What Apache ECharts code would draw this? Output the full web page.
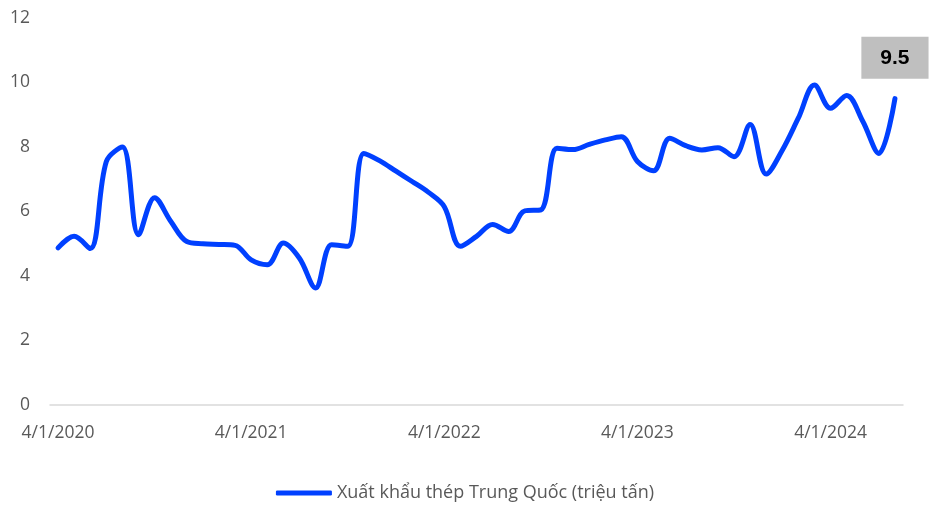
<!DOCTYPE html>
<html>
<head>
<meta charset="utf-8">
<script src="https://cdn.jsdelivr.net/npm/echarts@6/dist/echarts.min.js"></script>
<style>html,body{margin:0;padding:0;background:#fff}#c{width:930px;height:505px}</style>
</head>
<body>
<div id="c"></div>
<script>
// Monthly, 4/2020 .. 8/2024
var startYear = 2020, startMonth = 4;
var seriesName = 'Xuất khẩu thép Trung Quốc (triệu tấn)';
var values = [
  4.87, 5.23, 4.85, 7.55, 8.0, 5.28, 6.43, 5.7, 5.07, 5.0, 4.98, 4.95,
  4.5, 4.35, 5.02, 4.55, 3.63, 4.97, 4.92, 7.8, 7.57, 7.25, 6.93, 6.6,
  6.15, 4.92, 5.23, 5.6, 5.38, 6.02, 6.05, 7.96, 7.92, 8.08, 8.22, 8.32,
  7.55, 7.26, 8.27, 8.04, 7.91, 7.98, 7.7, 8.7, 7.16, 7.9, 8.9, 9.92,
  9.2, 9.6, 8.8, 7.8, 9.5
];
var categories = values.map(function (v, i) {
  var m = startMonth - 1 + i;
  return ((m % 12) + 1) + '/1/' + (startYear + Math.floor(m / 12));
});
var yTicks = [0, 2, 4, 6, 8, 10, 12];

var chart = echarts.init(document.getElementById('c'), null, {renderer: 'canvas'});
var lastIdx = values.length - 1;
chart.setOption({
  animation: false,
  grid: {left: 50, right: 27, top: 18, bottom: 100, containLabel: false},
  legend: {
    top: 479, left: 'center',
    itemWidth: 56, itemHeight: 5,
    icon: 'roundRect',
    textStyle: {fontFamily: 'Open Sans', fontSize: 18, color: '#595959'},
    data: [{name: seriesName}]
  },
  xAxis: {
    type: 'category',
    data: categories,
    boundaryGap: true,
    axisLine: {lineStyle: {color: '#D9D9D9', width: 1.5}},
    axisTick: {show: false},
    axisLabel: {interval: 11, color: '#595959', fontFamily: 'Open Sans', fontSize: 17.5, margin: 19}
  },
  yAxis: {
    type: 'value', min: yTicks[0], max: yTicks[yTicks.length - 1], interval: 2,
    axisLine: {show: false}, axisTick: {show: false}, splitLine: {show: false},
    axisLabel: {color: '#595959', fontFamily: 'Open Sans', fontSize: 17.5, margin: 20}
  },
  series: [{
    name: seriesName,
    type: 'line',
    data: values.map(function (v, i) {
      if (i === lastIdx) {
        return {value: v, label: {
          show: true, position: 'top', distance: 20,
          backgroundColor: '#BFBFBF', padding: [11, 19, 10, 19],
          color: '#000', fontWeight: 'bold', fontSize: 21, fontFamily: 'Liberation Sans',
          formatter: function (p) { return p.value.toFixed(1); }
        }};
      }
      return v;
    }),
    smooth: 0.35,
    showSymbol: true,
    symbol: 'circle',
    symbolSize: 0,
    lineStyle: {color: '#0040FF', width: 5, cap: 'round', join: 'round'},
    itemStyle: {color: '#0040FF'},
    legendHoverLink: false
  }]
});
</script>
</body>
</html>
